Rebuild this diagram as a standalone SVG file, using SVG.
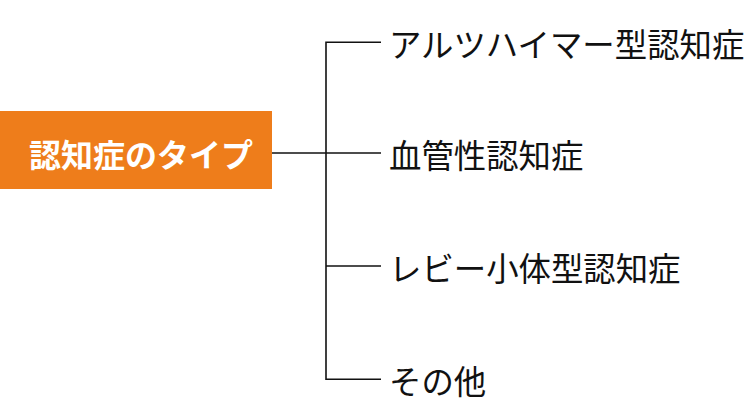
<svg xmlns="http://www.w3.org/2000/svg" width="750" height="417" viewBox="0 0 750 417">
<style>
.lbl{font-family:"Noto Sans CJK JP","Noto Sans",sans-serif;font-size:32.4px;fill:#111;dominant-baseline:central}
.root{font-family:"Noto Sans CJK JP","Noto Sans",sans-serif;font-size:32px;font-weight:bold;fill:#fff;dominant-baseline:central}
.conn{stroke:#111;stroke-width:1.6;fill:none}
</style>
<rect width="750" height="417" fill="#fff"/>
<g id="connectors">
<path class="conn" d="M272 153H326"/>
<path class="conn" d="M381 42.3H326V379.3H381"/>
<path class="conn" d="M326 153H381"/>
<path class="conn" d="M326 266H381"/>
</g>
<g id="root">
<rect x="0" y="111" width="272" height="78" fill="#EE7D1B"/>
<text class="root" x="29" y="153">認知症のタイプ</text>
</g>
<g id="n1"><text class="lbl" x="389" y="42">アルツハイマー型認知症</text></g>
<g id="n2"><text class="lbl" x="389" y="153">血管性認知症</text></g>
<g id="n3"><text class="lbl" x="389" y="266">レビー小体型認知症</text></g>
<g id="n4"><text class="lbl" x="389" y="379">その他</text></g>
</svg>
